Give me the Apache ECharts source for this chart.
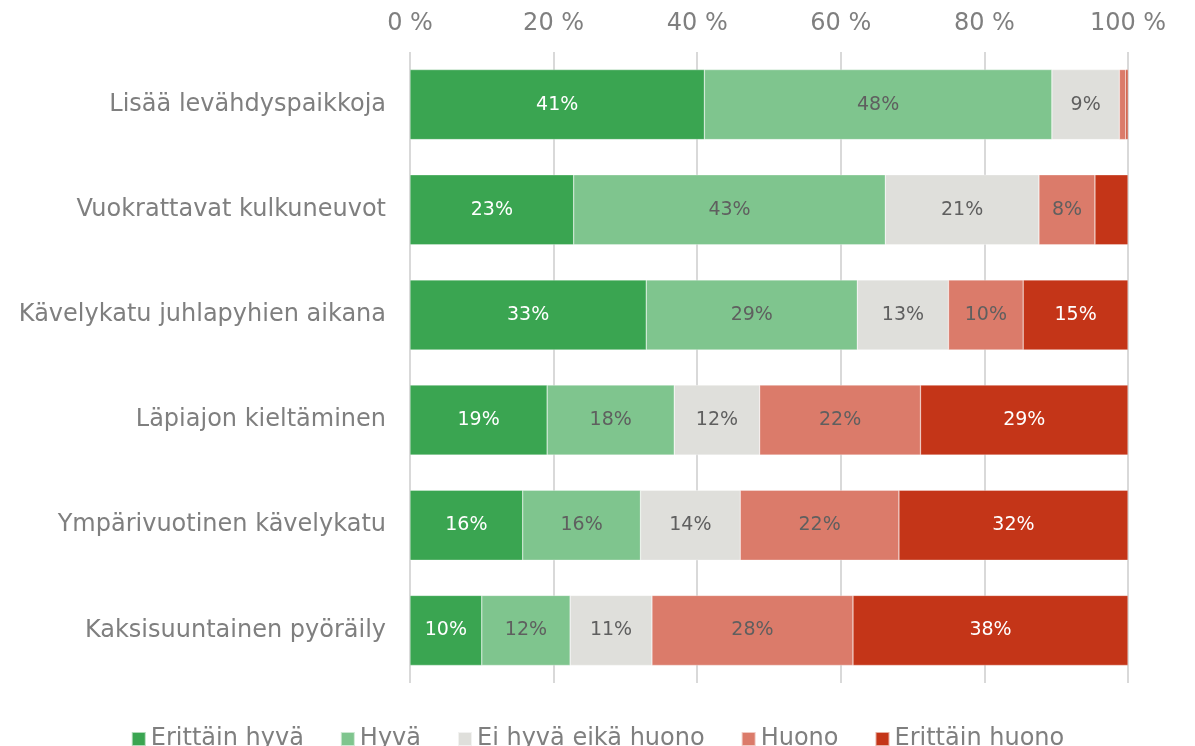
<!DOCTYPE html>
<html>
<head>
<meta charset="utf-8">
<script src="https://cdn.jsdelivr.net/npm/echarts@6/dist/echarts.min.js"></script>
<style>
html,body{margin:0;padding:0;background:#fff;}
#chart{width:1195px;height:746px;}
</style>
</head>
<body>
<div id="chart"></div>
<script>
var categories = [
  "Lisää levähdyspaikkoja",
  "Vuokrattavat kulkuneuvot",
  "Kävelykatu juhlapyhien aikana",
  "Läpiajon kieltäminen",
  "Ympärivuotinen kävelykatu",
  "Kaksisuuntainen pyöräily"
];
var seriesNames = ["Erittäin hyvä", "Hyvä", "Ei hyvä eikä huono", "Huono", "Erittäin huono"];
var erittainHyva  = [41.0, 22.8, 32.9, 19.1, 15.7, 10.0];
var hyva          = [48.4, 43.4, 29.4, 17.7, 16.4, 12.3];
var eiHyvaEikaHuono = [9.4, 21.4, 12.7, 11.9, 13.9, 11.4];
var huono         = [0.9, 7.8, 10.4, 22.4, 22.1, 28.0];
var erittainHuono = [0.3, 4.6, 14.6, 28.9, 31.9, 38.3];
var tickLabels = ["0 %", "20 %", "40 %", "60 %", "80 %", "100 %"];

var colors = ["#3aa551", "#7fc58e", "#dfdfdb", "#db7b6a", "#c43518"];
var labelColors = ["#ffffff", "#5f5f5f", "#5f5f5f", "#5f5f5f", "#ffffff"];
var allData = [erittainHyva, hyva, eiHyvaEikaHuono, huono, erittainHuono];

var FONT = "DejaVu Sans";

var series = allData.map(function (d, i) {
  return {
    name: seriesNames[i],
    type: "bar",
    stack: "total",
    barWidth: 70,
    data: d,
    itemStyle: { color: colors[i], borderColor: "rgba(255,255,255,0.6)", borderWidth: 0.5 },
    label: {
      show: true,
      position: "inside",
      color: labelColors[i],
      fontFamily: FONT,
      fontSize: 19,
      formatter: function (p) {
        return p.value >= 5 ? Math.round(p.value) + "%" : "";
      }
    },
    emphasis: { disabled: true }
  };
});

var chart = echarts.init(document.getElementById("chart"), null, { renderer: "canvas" });
chart.setOption({
  animation: false,
  backgroundColor: "#ffffff",
  grid: { left: 410, right: 67, top: 52, bottom: 63, containLabel: false },
  legend: {
    data: seriesNames,
    top: 722,
    left: "center",
    itemWidth: 14,
    itemHeight: 14,
    itemGap: 36,
    icon: "rect",
    textStyle: { fontFamily: FONT, fontSize: 24, color: "#7f7f7f" }
  },
  xAxis: {
    type: "value",
    position: "top",
    min: 0,
    max: 100,
    interval: 20,
    axisLine: { show: false },
    axisTick: { show: false },
    splitLine: { show: true, lineStyle: { color: "#d9d9d9", width: 2 } },
    axisLabel: {
      fontFamily: FONT,
      fontSize: 24,
      color: "#7f7f7f",
      margin: 16,
      formatter: function (v) { return tickLabels[Math.round(v / 20)]; }
    }
  },
  yAxis: {
    type: "category",
    data: categories,
    inverse: true,
    axisLine: { show: false },
    axisTick: { show: false },
    axisLabel: { fontFamily: FONT, fontSize: 24, color: "#7f7f7f", margin: 24 }
  },
  series: series
});
</script>
</body>
</html>
